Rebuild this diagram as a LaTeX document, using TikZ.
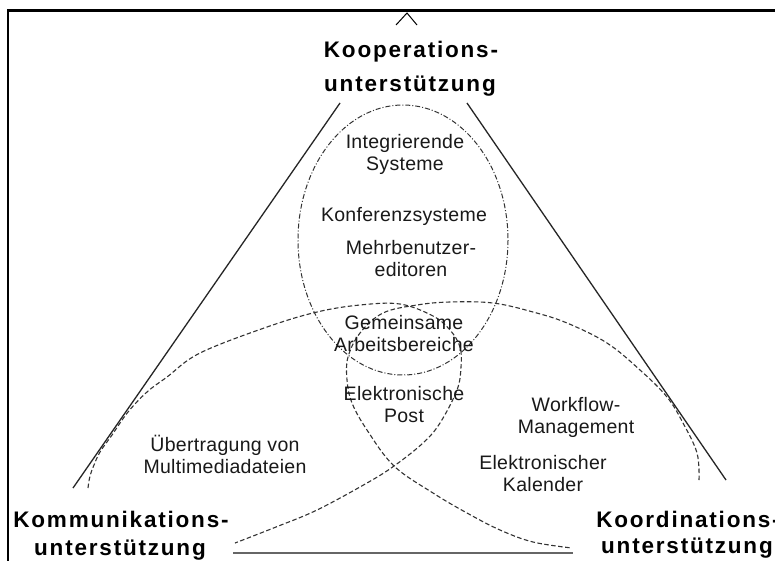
\documentclass[tikz,border=0pt]{standalone}
\usepackage{fontspec}
\setmainfont{Liberation Sans}
\newfontfamily\labelfont{Liberation Sans}[LetterSpace=1.5]
\newfontfamily\titlefont{Liberation Sans}[LetterSpace=8]
\begin{document}
\begin{tikzpicture}[x=1pt,y=-1pt,
  lbl/.style={font=\labelfont\fontsize{19.5}{22}\selectfont, align=center, text=black!90, inner sep=0pt},
  ttl/.style={font=\titlefont\bfseries\fontsize{22.5}{26}\selectfont, anchor=base, text=black, inner sep=0pt},
  side/.style={line width=1.3pt, black!85},
  dsh/.style={line width=1.1pt, black!80, dash pattern=on 4.5pt off 2.5pt},
  dshdot/.style={line width=1pt, black!80, dash pattern=on 5pt off 2pt on 1pt off 2pt},
]
\useasboundingbox (0,0) rectangle (775,560);
\fill[white] (0,0) rectangle (775,560);
% frame (top and left edges)
\draw[line width=2.7pt] (8,570) -- (8,10.5) -- (785,10.5);
% small chevron
\coordinate (capex) at (407,13);
\coordinate (capl) at (396,25);
\coordinate (capr) at (417,25);
\draw[line width=1pt] (capl) -- (capex) -- (capr);
% titles
\node[ttl] (koop1) at (411,57) {Kooperations-};
\node[ttl] (koop2) at (410,91) {unterstützung};
\node[ttl] (komm1) at (121,527) {Kommunikations-};
\node[ttl] (komm2) at (120,555) {unterstützung};
\node[ttl] (koord1) at (688,527) {Koordinations-};
\node[ttl] (koord2) at (687,553) {unterstützung};
% triangle sides
\coordinate (lt) at (340,103);
\coordinate (lb) at (73,488);
\coordinate (rt) at (467,103);
\coordinate (rb) at (726,480);
\coordinate (bl) at (233,553);
\coordinate (br) at (573,553);
\draw[side] (lt) -- (lb);
\draw[side] (rt) -- (rb);
\draw[line width=2.6pt, black!60] (bl) -- (br);
% cooperation ellipse
\draw[dshdot] (403,240) ellipse [x radius=105, y radius=135];
% communication curve
\draw[dsh] plot[smooth, tension=0.6] coordinates {
  (88,488) (90,476) (94,465) (100,452) (112,435) (128,412) (147,392) (167,377)
  (200,353) (267,327) (317,312) (360,305) (400,304) (433,316) (450,330)
  (460,347) (461,367) (457,390) (440,423) (423,443) (394,466) (367,483)
  (317,510) (276,527) (235,543)};
% coordination curve
\draw[dsh] plot[smooth, tension=0.6] coordinates {
  (699,480) (697,453) (683,423) (667,397) (640,370) (607,343) (567,323)
  (533,312) (493,303) (450,302) (417,305) (383,313) (360,333) (348,357)
  (347,380) (352,403) (367,430) (394,466) (433,493) (467,513) (500,530)
  (533,542) (572,548)};
% labels
\node[lbl] (integ) at (405,154) {Integrierende\\Systeme};
\node[lbl] (konf) at (404,216) {Konferenzsysteme};
\node[lbl] (mehr) at (411,259) {Mehrbenutzer-\\editoren};
\node[lbl] (gem) at (404,334) {Gemeinsame\\Arbeitsbereiche};
\node[lbl] (post) at (404,405) {Elektronische\\Post};
\node[lbl] (work) at (576,417) {Workflow-\\Management};
\node[lbl] (kal) at (543,474) {Elektronischer\\Kalender};
\node[lbl] (mm) at (225,454) {Übertragung von\\Multimediadateien};
\end{tikzpicture}
\end{document}
